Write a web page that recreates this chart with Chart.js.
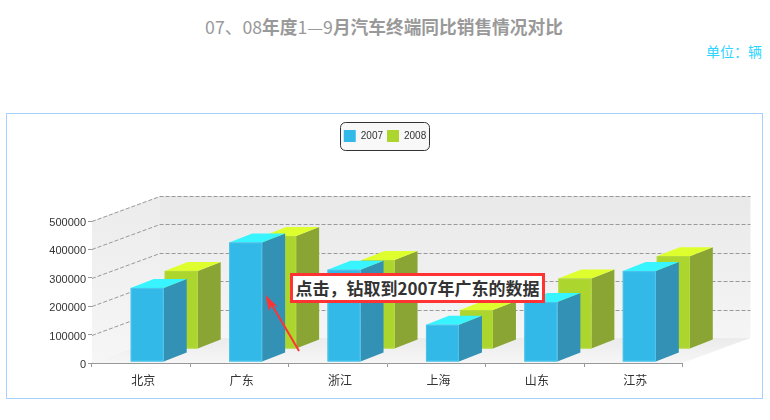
<!DOCTYPE html>
<html>
<head>
<meta charset="utf-8">
<title>07、08年度1—9月汽车终端同比销售情况对比</title>
<script src="https://cdn.jsdelivr.net/npm/chart.js@4"></script>
<style>
body { margin: 0; background: #fff; overflow: hidden; font-family: "Noto Sans CJK SC", sans-serif; }
#title { position: absolute; left: 0; width: 768px; top: 14px; text-align: center; font-size: 17.7px; line-height: 24px; color: #999; font-weight: bold; }
#title span { font-weight: normal; }
#unit { position: absolute; right: 8px; top: 42px; font-size: 14px; line-height: 18px; color: #2fd5ff; }
#frame { position: absolute; left: 6px; top: 113px; width: 755px; height: 284px; border: 1px solid #a6d2ff; }
#myChart { position: absolute; left: 0; top: 0; }
#callout { position: absolute; left: 290px; top: 273px; width: 249px; height: 24px; padding: 0; border: 3px solid #f33; background: #fff; color: #333; font-size: 17px; line-height: 24px; font-weight: bold; text-align: center; white-space: nowrap; }
#arrow { position: absolute; left: 0; top: 0; }
</style>
</head>
<body>
<div id="title"><span>07、08</span>年度<span>1—9</span>月汽车终端同比销售情况对比</div>
<div id="unit">单位：辆</div>
<div id="frame"></div>
<canvas id="myChart" width="770" height="420"></canvas>
<svg id="arrow" width="770" height="420">
  <line x1="299" y1="351" x2="272" y2="305" stroke="#f33" stroke-width="2"/>
  <polygon points="265.5,295 278,307 272,305 269,311" fill="#f33"/>
</svg>
<div id="callout">点击，钻取到2007年广东的数据</div>

<script>
var categories = ['北京', '广东', '浙江', '上海', '山东', '江苏'];
var values2007 = [261000, 421000, 325000, 131000, 211000, 320000];
var values2008 = [275000, 398000, 313000, 137000, 248000, 327000];

// depth of the fake 3d room and of one bar
var roomDepth = { x: 68, y: -25 };
var barDepth = { x: 23, y: -9 };

function shade(ctx, x0, y0, x1, y1, from, to) {
    var g = ctx.createLinearGradient(x0, y0, x1, y1);
    g.addColorStop(0, from);
    g.addColorStop(1, to);
    return g;
}

function poly(ctx, pts, fill) {
    ctx.beginPath();
    ctx.moveTo(pts[0][0], pts[0][1]);
    for (var i = 1; i < pts.length; i++) {
        ctx.lineTo(pts[i][0], pts[i][1]);
    }
    ctx.closePath();
    ctx.fillStyle = fill;
    ctx.fill();
}

var room3d = {
    id: 'room3d',
    afterLayout: function(chart) {
        // legend sits well above the plot, not right on top of it
        // (the hit boxes follow by themselves, legend rebuilds them in afterUpdate)
        var legend = chart.legend;
        var dy = 126 - legend.top;
        legend.top += dy;
        legend.bottom += dy;
    },
    beforeDraw: function(chart) {
        var ctx = chart.ctx;
        var hits = chart.legend.legendHitBoxes;
        var last = hits[hits.length - 1];
        var left = Math.round(hits[0].left) - 4;
        var right = Math.round(last.left + last.width) + 3;
        ctx.save();
        ctx.beginPath();
        ctx.roundRect(left + 0.5, Math.round(hits[0].top) - 7.5, right - left, 28, 5);
        ctx.fillStyle = '#f8f8f8';
        ctx.fill();
        ctx.strokeStyle = '#333';
        ctx.lineWidth = 1;
        ctx.stroke();
        ctx.restore();
    },
    beforeDatasetsDraw: function(chart) {
        var ctx = chart.ctx;
        var area = chart.chartArea;
        var y = chart.scales.y;
        var dx = roomDepth.x, dy = roomDepth.y;
        var l = area.left, r = area.right, t = area.top, b = area.bottom;

        ctx.save();
        // back wall, left wall, floor
        poly(ctx, [[l + dx, t + dy], [r + dx, t + dy], [r + dx, b + dy], [l + dx, b + dy]],
            shade(ctx, 0, t + dy, 0, b + dy, '#e9e9e9', '#f5f5f5'));
        poly(ctx, [[l, t], [l + dx, t + dy], [l + dx, b + dy], [l, b]],
            shade(ctx, 0, t + dy, 0, b, '#ececec', '#f6f6f6'));
        poly(ctx, [[l, b], [r, b], [r + dx, b + dy], [l + dx, b + dy]],
            shade(ctx, 0, b + dy, 0, b, '#ebebeb', '#f6f6f6'));

        ctx.strokeStyle = '#999';
        ctx.lineWidth = 1;
        ctx.setLineDash([4, 2]);
        y.ticks.forEach(function(tick) {
            if (tick.value === 0) return;
            var py = Math.round(y.getPixelForValue(tick.value)) + 0.5;
            ctx.beginPath();
            ctx.moveTo(l, py);
            ctx.lineTo(l + dx, py + dy);
            ctx.lineTo(r + dx, py + dy);
            ctx.stroke();
        });
        ctx.restore();
    },
    beforeDatasetDraw: function(chart, args) {
        var ctx = chart.ctx;
        var ds = chart.data.datasets[args.index];
        ctx.save();
        args.meta.data.forEach(function(bar) {
            var x0 = bar.x - bar.width / 2 + ds.shift.x;
            var x1 = x0 + bar.width;
            var top = bar.y + ds.shift.y;
            var bottom = bar.base + ds.shift.y;
            var dx = barDepth.x, dy = barDepth.y;
            poly(ctx, [[x1, top], [x1 + dx, top + dy], [x1 + dx, bottom + dy], [x1, bottom]], ds.sideColor);
            poly(ctx, [[x0, top], [x0 + dx, top + dy], [x1 + dx, top + dy], [x1, top]], ds.topColor);
            poly(ctx, [[x0, top], [x1, top], [x1, bottom], [x0, bottom]], ds.backgroundColor);
            ctx.strokeStyle = ds.edgeColor;
            ctx.lineWidth = 1;
            ctx.strokeRect(x0 + 0.5, top + 0.5, bar.width - 1, bottom - top - 1);
        });
        ctx.restore();
        return false;
    }
};

const ctx = document.getElementById('myChart');

new Chart(ctx, {
    type: 'bar',
    plugins: [room3d],
    data: {
        labels: categories,
        datasets: [{
            label: '2007',
            data: values2007,
            backgroundColor: '#33b9e8',
            sideColor: '#3391b5',
            topColor: '#38f4ff',
            edgeColor: '#4cc4ea',
            shift: { x: 6, y: -1 },
            borderWidth: 0
        }, {
            label: '2008',
            data: values2008,
            backgroundColor: '#acd52e',
            sideColor: '#8aa533',
            topColor: '#deff2d',
            edgeColor: '#b4d940',
            shift: { x: 40, y: -14 },
            borderWidth: 0
        }]
    },
    options: {
        responsive: false,
        animation: false,
        layout: { padding: { top: 195 } },
        datasets: { bar: { grouped: false, barThickness: 33 } },
        plugins: {
            legend: {
                position: 'top',
                labels: {
                    boxWidth: 12,
                    boxHeight: 12,
                    padding: 4,
                    color: '#333',
                    font: { family: 'Liberation Sans', size: 10 }
                }
            },
            tooltip: { enabled: true }
        },
        scales: {
            x: {
                afterFit: function(scale) { scale.height = 57; },
                border: { color: '#999' },
                grid: { drawOnChartArea: false, tickLength: 4, tickColor: '#999' },
                ticks: {
                    color: '#333',
                    padding: 6,
                    labelOffset: 2,
                    maxRotation: 0,
                    font: { family: 'Noto Sans CJK SC', size: 12 }
                }
            },
            y: {
                min: 0,
                max: 500000,
                afterFit: function(scale) { scale.width = 92; },
                border: { color: '#999' },
                grid: { drawOnChartArea: false, tickLength: 4, tickColor: '#999' },
                ticks: {
                    stepSize: 100000,
                    color: '#333',
                    padding: 2,
                    labelOffset: 2,
                    font: { family: 'Liberation Sans', size: 11 },
                    callback: function(value) { return String(value); }
                }
            },
            // empty axis, only holds the room on the right for the depth of the floor
            spacer: {
                position: 'right',
                afterFit: function(scale) { scale.width = 87.5; },
                border: { display: false },
                grid: { display: false },
                ticks: { display: false }
            }
        }
    }
});
</script>
</body>
</html>
